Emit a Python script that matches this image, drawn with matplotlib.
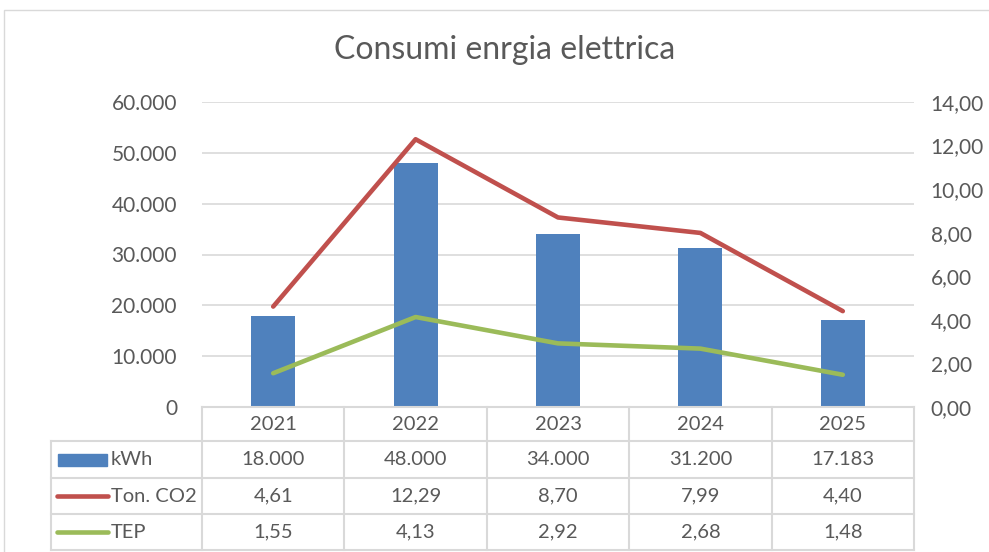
import matplotlib.pyplot as plt
from matplotlib.lines import Line2D
from matplotlib.patches import Rectangle

plt.rcParams['font.family'] = ['Lato', 'DejaVu Sans']

# --- dati ---
anni = ['2021', '2022', '2023', '2024', '2025']
kwh = [18000, 48000, 34000, 31200, 17183]
co2 = [4.61, 12.29, 8.70, 7.99, 4.40]
tep = [1.55, 4.13, 2.92, 2.68, 1.48]

BLU = '#4F81BD'
ROSSO = '#C0504D'
VERDE = '#9BBB59'
GRIGIO = '#D9D9D9'
TESTO = '#595959'

W, H = 989, 552


def fmt_migliaia(v):
    return f"{v:,.0f}".replace(',', '.')


def fmt_dec(v):
    return f"{v:.2f}".replace('.', ',')


fig = plt.figure(figsize=(W / 100, H / 100), dpi=100)

# bordo del grafico
fig.add_artist(Rectangle((4 / W, -0.1), 2, 1 - 10 / H + 0.1, transform=fig.transFigure,
                         fill=False, edgecolor=GRIGIO, linewidth=1))

x0, x1, y_top, y_bot = 202, 914, 102, 407
ax = fig.add_axes([x0 / W, 1 - y_bot / H, (x1 - x0) / W, (y_bot - y_top) / H])
ax2 = ax.twinx()

xs = list(range(len(anni)))
ax.bar(xs, kwh, width=0.31, color=BLU, zorder=2)
ax2.plot(xs, co2, color=ROSSO, linewidth=3.3, solid_capstyle='round')
ax2.plot(xs, tep, color=VERDE, linewidth=3.3, solid_capstyle='round')

ax.set_xlim(-0.5, len(anni) - 0.5)
ax.set_ylim(0, 60000)
ax2.set_ylim(0, 14)
ax.set_yticks(range(0, 60001, 10000))
ax2.set_yticks(range(0, 15, 2))
ax.set_yticklabels([fmt_migliaia(v) for v in range(0, 60001, 10000)])
ax2.set_yticklabels([fmt_dec(v) for v in range(0, 15, 2)])
ax.grid(axis='y', color=GRIGIO, linewidth=1.2, zorder=0)
ax.set_axisbelow(True)
ax.set_xticks([])
for a in (ax, ax2):
    for s in a.spines.values():
        s.set_visible(False)
    a.tick_params(axis='y', length=0, labelsize=15, labelcolor=TESTO)
ax.tick_params(axis='y', pad=18)
ax2.tick_params(axis='y', pad=12)

fig.text(505 / W, 1 - 50 / H, 'Consumi enrgia elettrica', ha='center', va='center',
         fontsize=23, color=TESTO)

# --- tabella dati ---
def fy(py):
    return 1 - py / H


def fx(px):
    return px / W


righe = [407, 441, 478, 514, 550]
col_l = 51
col_step = (x1 - x0) / len(anni)
colonne = [x0 + i * col_step for i in range(len(anni) + 1)]

kw = dict(transform=fig.transFigure, color=GRIGIO, linewidth=1.5)
fig.add_artist(Line2D([fx(x0), fx(x1)], [fy(righe[0])] * 2, **kw))
for r in righe[1:]:
    fig.add_artist(Line2D([fx(col_l), fx(x1)], [fy(r)] * 2, **kw))
fig.add_artist(Line2D([fx(col_l)] * 2, [fy(righe[1]), fy(righe[-1])], **kw))
for c in colonne:
    fig.add_artist(Line2D([fx(c)] * 2, [fy(righe[0]), fy(righe[-1])], **kw))

tk = dict(ha='center', va='center', fontsize=14.5, color=TESTO)
for i, anno in enumerate(anni):
    cx = fx(colonne[i] + col_step / 2)
    fig.text(cx, fy((righe[0] + righe[1]) / 2), anno, **tk)
    fig.text(cx, fy((righe[1] + righe[2]) / 2), fmt_migliaia(kwh[i]), **tk)
    fig.text(cx, fy((righe[2] + righe[3]) / 2), fmt_dec(co2[i]), **tk)
    fig.text(cx, fy((righe[3] + righe[4]) / 2), fmt_dec(tep[i]), **tk)

# legenda nella prima colonna
etichette = ['kWh', 'Ton. CO2', 'TEP']
for j, lab in enumerate(etichette):
    yc = (righe[j + 1] + righe[j + 2]) / 2
    if j == 0:
        fig.add_artist(Rectangle((fx(58), fy(yc + 6)), fx(107) - fx(58), (12) / H,
                                 transform=fig.transFigure, color=BLU))
    else:
        colore = ROSSO if j == 1 else VERDE
        fig.add_artist(Line2D([fx(57), fx(108)], [fy(yc)] * 2, transform=fig.transFigure,
                              color=colore, linewidth=3.3, solid_capstyle='round'))
    fig.text(fx(111), fy(yc), lab, ha='left', va='center', fontsize=14.5, color=TESTO)

fig.savefig('out.png', dpi=100)
